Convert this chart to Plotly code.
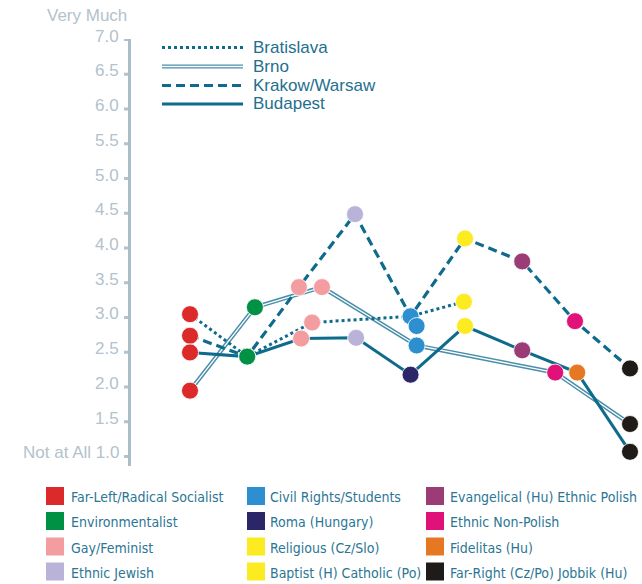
import plotly.graph_objects as go

# ---------------- data ----------------
categories = ["Far-Left/Radical Socialist", "Environmentalist", "Gay/Feminist", "Ethnic Jewish",
              "Civil Rights/Students", "Roma (Hungary)", "Religious (Cz/Slo)", "Baptist (H) Catholic (Po)",
              "Evangelical (Hu) Ethnic Polish", "Ethnic Non-Polish", "Fidelitas (Hu)",
              "Far-Right (Cz/Po) Jobbik (Hu)"]
cat_colors = ["#dc2a2b", "#009144", "#f39da0", "#bab3d9", "#2e8fd0", "#2b2668", "#fbeb20",
              "#fbeb20", "#9c3c76", "#e1117a", "#e77823", "#1f1b18"]

# each city: category index, horizontal slot, value
brat_cat = [0, 1, 2, 4, 6]
brat_pos = [0, 1.04, 2.22, 4.01, 4.98]
brat_val = [3.04, 2.43, 2.92, 3.01, 3.22]

brno_cat = [0, 1, 2, 4, 9, 11]
brno_pos = [0, 1.18, 2.4, 4.12, 6.64, 8]
brno_val = [1.94, 3.14, 3.43, 2.59, 2.20, 1.46]

krak_cat = [0, 1, 2, 3, 4, 7, 8, 9, 11]
krak_pos = [0, 1.04, 1.98, 3.0, 4.01, 5.0, 6.04, 7.0, 8]
krak_val = [2.73, 2.43, 3.43, 4.48, 3.01, 4.13, 3.80, 2.94, 2.26]

buda_cat = [0, 1, 2, 3, 5, 7, 8, 10, 11]
buda_pos = [0, 1.04, 2.02, 3.02, 4.01, 5.0, 6.04, 7.04, 8]
buda_val = [2.49, 2.43, 2.69, 2.70, 2.17, 2.87, 2.52, 2.20, 1.06]

extra_cat = [4]
extra_pos = [4.12]
extra_val = [2.87]

tick_vals = [1.0, 1.5, 2.0, 2.5, 3.0, 3.5, 4.0, 4.5, 5.0, 5.5, 6.0, 6.5, 7.0]
tick_text = ["Not at All 1.0", "1.5", "2.0", "2.5", "3.0", "3.5", "4.0", "4.5", "5.0",
             "5.5", "6.0", "6.5", "7.0"]
city_names = ["Bratislava", "Brno", "Krakow/Warsaw", "Budapest"]

# ---------------- style ----------------
LINE = "#0f6b8c"
BRNO_OUT = "#4a8eaa"
AXIS = "#aabdc9"
TICKTXT = "#b3c2cc"
LEGTXT = "#1f6f8e"
LEG2TXT = "#2b7694"
FONT = "Liberation Sans, Arial, sans-serif"
NARROW = "DejaVu Sans Condensed, Liberation Sans Narrow, sans-serif"

W, H = 642, 584
L, T, PW, PH = 131, 39, 511, 427


def px(x):
    return (x - L) / PW


def py(y):
    return 1 - (y - T) / PH


fig = go.Figure()

# lines
fig.add_trace(go.Scatter(x=brno_pos, y=brno_val, mode="lines",
                         line=dict(color=BRNO_OUT, width=4.2), hoverinfo="skip"))
fig.add_trace(go.Scatter(x=brno_pos, y=brno_val, mode="lines",
                         line=dict(color="white", width=1.3), hoverinfo="skip"))
fig.add_trace(go.Scatter(x=brat_pos, y=brat_val, mode="lines",
                         line=dict(color=LINE, width=3, dash="dot"), hoverinfo="skip"))
fig.add_trace(go.Scatter(x=krak_pos, y=krak_val, mode="lines",
                         line=dict(color=LINE, width=3.2, dash="9px,5px"), hoverinfo="skip"))
fig.add_trace(go.Scatter(x=buda_pos, y=buda_val, mode="lines",
                         line=dict(color=LINE, width=3), hoverinfo="skip"))

# markers
for cats, pos, vals in [(brat_cat, brat_pos, brat_val), (brno_cat, brno_pos, brno_val),
                        (krak_cat, krak_pos, krak_val), (buda_cat, buda_pos, buda_val),
                        (extra_cat, extra_pos, extra_val)]:
    fig.add_trace(go.Scatter(
        x=pos, y=vals, mode="markers", cliponaxis=False,
        marker=dict(size=17, color=[cat_colors[c] for c in cats],
                    line=dict(color="rgba(255,255,255,0.8)", width=1)),
        text=[categories[c] for c in cats], hoverinfo="text+y"))

shapes = []
annotations = []

# y tick marks & labels
for v, t in zip(tick_vals, tick_text):
    shapes.append(dict(type="rect", xref="paper", yref="y", xsizemode="pixel", ysizemode="pixel",
                       xanchor=0, yanchor=v, x0=-7, x1=-3, y0=-2, y1=1,
                       fillcolor=TICKTXT, line=dict(width=0)))
    annotations.append(dict(xref="paper", yref="y", x=px(121), y=v, yshift=3, text=t,
                            showarrow=False, xanchor="right", yanchor="middle",
                            font=dict(family=FONT, size=17, color=TICKTXT)))

annotations.append(dict(xref="paper", yref="paper", x=px(129), y=py(16), text="Very Much",
                        showarrow=False, xanchor="right", yanchor="middle",
                        font=dict(family=FONT, size=17, color=TICKTXT)))

# top legend (line styles)
leg_y = [47.5, 66.5, 85.5, 104]
x0l, x1l = px(162), px(243)
shapes.append(dict(type="line", xref="paper", yref="paper", x0=x0l, x1=x1l,
                   y0=py(leg_y[0]), y1=py(leg_y[0]), line=dict(color=LINE, width=3, dash="dot")))
shapes.append(dict(type="line", xref="paper", yref="paper", x0=x0l, x1=x1l,
                   y0=py(leg_y[1]), y1=py(leg_y[1]), line=dict(color=BRNO_OUT, width=4)))
shapes.append(dict(type="line", xref="paper", yref="paper", x0=x0l, x1=x1l,
                   y0=py(leg_y[1]), y1=py(leg_y[1]), line=dict(color="white", width=1.3)))
shapes.append(dict(type="line", xref="paper", yref="paper", x0=x0l, x1=x1l,
                   y0=py(leg_y[2]), y1=py(leg_y[2]), line=dict(color=LINE, width=3.2, dash="9px,5px")))
shapes.append(dict(type="line", xref="paper", yref="paper", x0=x0l, x1=x1l,
                   y0=py(leg_y[3]), y1=py(leg_y[3]), line=dict(color=LINE, width=3)))
for yy, name in zip(leg_y, city_names):
    annotations.append(dict(xref="paper", yref="paper", x=px(251), y=py(yy), text=name,
                            showarrow=False, xanchor="left", yanchor="middle",
                            font=dict(family=FONT, size=17, color=LEGTXT)))

# bottom legend (categories)
col_sq = [46, 247, 426]
col_tx = [69, 268, 448]
row_y = [496, 521, 546.5, 571.5]
for i, (name, col) in enumerate(zip(categories, cat_colors)):
    c, r = divmod(i, 4)
    yc = row_y[r]
    shapes.append(dict(type="rect", xref="paper", yref="paper",
                       x0=px(col_sq[c]), x1=px(col_sq[c] + 18),
                       y0=py(yc - 9), y1=py(yc + 9), fillcolor=col, line=dict(width=0)))
    annotations.append(dict(xref="paper", yref="paper", x=px(col_tx[c]), y=py(yc + 1), text=name,
                            showarrow=False, xanchor="left", yanchor="middle",
                            font=dict(family=NARROW, size=14, color=LEG2TXT)))

fig.update_layout(
    width=W, height=H,
    margin=dict(l=L, r=W - L - PW, t=T, b=H - T - PH, pad=0),
    paper_bgcolor="white", plot_bgcolor="white",
    showlegend=False,
    xaxis=dict(range=[-1.0727, 8.218], visible=False, fixedrange=True),
    yaxis=dict(range=[0.856, 7.0], showline=True, linecolor=AXIS, linewidth=3,
               showgrid=False, zeroline=False, showticklabels=False, ticks="",
               tickvals=tick_vals, fixedrange=True),
    shapes=shapes, annotations=annotations,
)

fig.write_html("out.html", config={"displayModeBar": False},
               post_script="document.body.style.margin='0';document.body.style.overflow='hidden';")
